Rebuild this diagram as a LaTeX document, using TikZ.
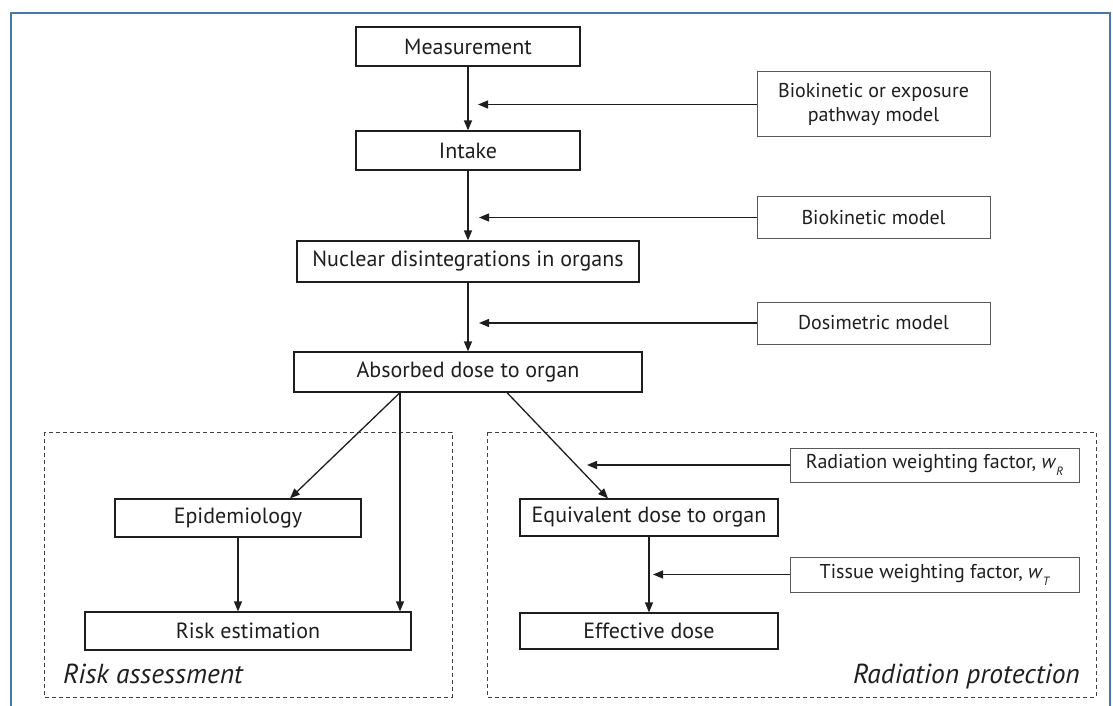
\documentclass[tikz,border=0pt]{standalone}
\usepackage{fontspec}
\setmainfont{PT Sans}
\usetikzlibrary{arrows.meta,calc}
\definecolor{frameblue}{RGB}{74,118,168}
\definecolor{ink}{RGB}{30,30,30}
\newcommand\subsc[1]{\raisebox{-0.35em}{\fontsize{12}{12}\selectfont\itshape #1}}
\begin{document}
\begin{tikzpicture}[x=1pt,y=-1pt,
 box/.style={draw=ink,line width=1.2pt,inner sep=0pt,font=\fontsize{22}{26}\selectfont,text=ink},
 sidebox/.style={draw=black!65,line width=1pt,inner sep=0pt,font=\fontsize{20}{24}\selectfont,align=center,text=ink},
 arr/.style={draw=ink,line width=1.3pt,-{Triangle[length=10pt,width=8pt]}},
 region/.style={draw=ink!85,line width=1pt,dash pattern=on 4pt off 3pt},
 zone/.style={font=\fontsize{27.5}{32}\selectfont\itshape,text=ink,inner sep=0pt}]
\useasboundingbox (0,0) rectangle (1113,706);
% frame
\draw[frameblue,line width=2pt] (11,706) -- (11,13) -- (1110,13) -- (1110,706);
% dashed regions
\draw[region] (44,432) rectangle (452,697);
\draw[region] (487,432) rectangle (1096,697);
% main column
\node[box,minimum width=224pt,minimum height=39pt] (meas) at (468,46.5) {Measurement};
\node[box,minimum width=224pt,minimum height=39pt] (intake) at (468,150.5) {Intake};
\node[box,minimum width=342pt,minimum height=41pt] (nucl) at (468,261.5) {Nuclear disintegrations in organs};
\node[box,minimum width=348pt,minimum height=40pt] (abs) at (468,372) {Absorbed dose to organ};
\node[box,minimum width=246pt,minimum height=38pt] (epi) at (238,518) {Epidemiology};
\node[box,minimum width=326pt,minimum height=38pt] (risk) at (248,631) {Risk estimation};
\node[box,minimum width=258pt,minimum height=37pt] (equiv) at (649,517.5) {Equivalent dose to organ};
\node[box,minimum width=258pt,minimum height=36pt] (eff) at (649,631) {Effective dose};
% side boxes
\node[sidebox,minimum width=233pt,minimum height=65pt] (bioexp) at (873.5,104.5) {Biokinetic or exposure\\pathway model};
\node[sidebox,minimum width=233pt,minimum height=42pt] (biomod) at (873.5,217.5) {Biokinetic model};
\node[sidebox,minimum width=233pt,minimum height=42pt] (dosi) at (873.5,323) {Dosimetric model};
\node[sidebox,minimum width=289pt,minimum height=34pt] (radw) at (934.5,465) {Radiation weighting factor, \textit{w}\subsc{R}};
\node[sidebox,minimum width=289pt,minimum height=35pt] (tisw) at (934.5,574.5) {Tissue weighting factor, \textit{w}\subsc{T}};
% zone labels
\node[zone,anchor=base west] (lra) at (63,683) {Risk assessment};
\node[zone,anchor=base east] (lrp) at (1080,683) {Radiation protection};
% connectors
\draw[arr] (meas.south) -- (intake.north);
\draw[arr] (intake.south) -- (nucl.north);
\draw[arr] (nucl.south) -- (abs.north);
\draw[arr] (bioexp.west) -- ([xshift=10pt]meas.south |- bioexp.west);
\draw[arr] (biomod.west) -- ([xshift=11pt]intake.south |- biomod.west);
\draw[arr] (dosi.west) -- ([xshift=11pt]nucl.south |- dosi.west);
\draw[arr] ([xshift=-68pt]abs.south) -- ([xshift=52pt]epi.north);
\draw[arr] ([xshift=-68pt]abs.south) -- ([xshift=-68pt]abs.south |- risk.north);
\draw[arr] ([xshift=39pt]abs.south) -- ([xshift=-41pt]equiv.north);
\draw[arr] (epi.south) -- (epi.south |- risk.north);
\draw[arr] (equiv.south) -- (eff.north);
\draw[arr] (radw.west) -- ([xshift=-62pt]equiv.north |- radw.west);
\draw[arr] (tisw.west) -- ([xshift=4pt]equiv.south |- tisw.west);
\end{tikzpicture}
\end{document}
